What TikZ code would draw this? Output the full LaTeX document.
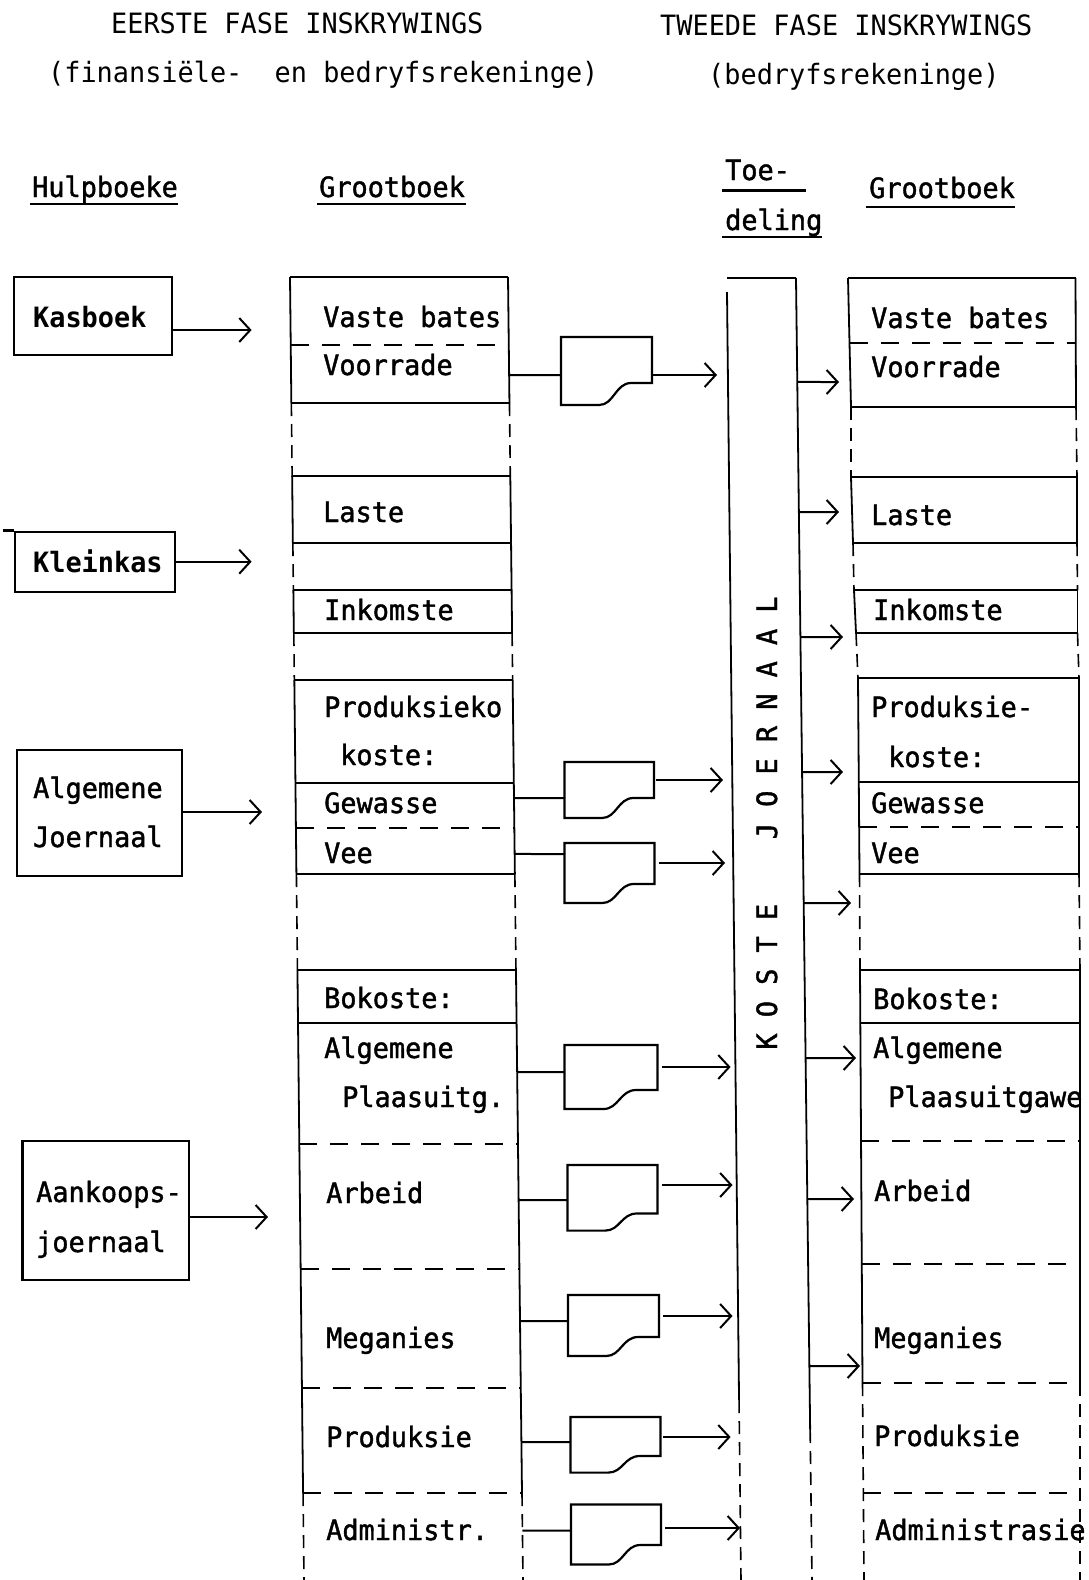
\documentclass[tikz,border=0pt]{standalone}
\usepackage{fontspec}
\setmonofont[FakeStretch=0.96]{DejaVu Sans Mono}
\newfontfamily\twfont[FakeStretch=0.96,FakeBold=1.4]{DejaVu Sans Mono}
\usetikzlibrary{arrows.meta,calc}
\newcommand\GLx[1]{290+(#1-277)*0.010744}
\newcommand\GRx[1]{508+(#1-277)*0.011512}
\newcommand\docshape[5]{%
 \draw[docln] (#1,#3) -- (#2,#3) -- (#2,#4) -- ({#1+0.77*(#2-#1)},#4)
   .. controls ({#1+0.6*(#2-#1)},#4) and ({#1+0.58*(#2-#1)},#5) ..
   ({#1+0.42*(#2-#1)},#5) -- (#1,#5) -- cycle;}
\tikzset{
 tw/.style={font=\twfont\fontsize{28}{49}\selectfont, inner sep=0pt, anchor=base west},
 th/.style={font=\ttfamily\fontsize{28}{49}\selectfont, inner sep=0pt, anchor=base west},
 twb/.style={tw, font=\ttfamily\bfseries\fontsize{28}{49}\selectfont},
 hl/.style={line width=2.2pt},
 hd/.style={line width=2pt, dash pattern=on 18pt off 13pt},
 vl/.style={line width=1.8pt},
 vd/.style={line width=1.6pt, dash pattern=on 13pt off 8pt},
 arr/.style={line width=2pt, -{Straight Barb[length=11pt,width=24pt]}},
 conn/.style={line width=2pt},
 hbox/.style={draw, line width=2.4pt, inner sep=0pt},
 docln/.style={line width=2.2pt, line join=miter},
 ul/.style={line width=2.6pt},
}
\begin{document}
\begin{tikzpicture}[x=1pt,y=-1pt]
\fill[white] (0,0) rectangle (1088,1580);
\useasboundingbox (0,0) rectangle (1088,1580);

% ---------- headers
\node[th] (h1) at (111,33) {EERSTE FASE INSKRYWINGS};
\node[th] (h2) at (48,82) {(finansiële-~~en bedryfsrekeninge)};
\node[th] (h3) at (660,35) {TWEEDE FASE INSKRYWINGS};
\node[th] (h4) at (708,84) {(bedryfsrekeninge)};
\node[tw] (hb) at (32,197) {Hulpboeke};
\draw[ul] (30,204) -- (178,204);
\node[tw] (gb1) at (319,197) {Grootboek};
\draw[ul] (317,204) -- (466,204);
\node[tw] (toe) at (725,180) {Toe-};
\draw[ul] (722,190.5) -- (806,190.5);
\node[tw] (del) at (725,230) {deling};
\draw[ul] (722,237) -- (822,237);
\node[tw] (gb2) at (869,198) {Grootboek};
\draw[ul] (866,207) -- (1015,207);

% ---------- Hulpboeke
\node[hbox, minimum width=158pt, minimum height=78pt] (kas) at (93,316) {};
\node[twb] (kast) at (33,327) {Kasboek};
\node[hbox, minimum width=160pt, minimum height=60pt] (kk) at (95,561.7) {};
\draw[hl] (kk.north west) -- ++(-11,0);
\node[twb] (kkt) at (33,572) {Kleinkas};
\node[hbox, minimum width=165pt, minimum height=126pt] (aj) at (99.5,813) {};
\node[tw] (ajt1) at (33,798) {Algemene};
\node[tw] (ajt2) at (33,847) {Joernaal};
\node[hbox, minimum width=166.5pt, minimum height=139pt] (ak) at (105.75,1210.5) {};
\node[tw] (akt1) at (36,1202) {Aankoops-};
\node[tw] (akt2) at (36,1252) {joernaal};

\coordinate (kasE) at (251.6,330);
\coordinate (kkE) at (251.6,561.7);
\coordinate (ajE) at (262,812);
\coordinate (akE) at (268,1217);
\draw[arr] (kas.east |- kasE) -- (kasE);
\draw[arr] (kk.east |- kkE) -- (kkE);
\draw[arr] (aj.east |- ajE) -- (ajE);
\draw[arr] (ak.east |- akE) -- (akE);

% ---------- first Grootboek
\foreach \yy in {277,403,476,543,590,633,680,783,874,970,1023}
  \draw[hl] ({\GLx{\yy}},\yy) -- ({\GRx{\yy}},\yy);
\foreach \yy in {345,828,1144,1269,1388,1493}
  \draw[hd] ({\GLx{\yy}},\yy) -- ({\GRx{\yy}},\yy);
\foreach \a/\b in {277/403,476/543,590/633,680/874,970/1493}
  \draw[vl] ({\GLx{\a}},\a) -- ({\GLx{\b}},\b);
\foreach \a/\b in {403/476,543/590,633/680,874/970,1493/1580}
  \draw[vd] ({\GLx{\a}},\a) -- ({\GLx{\b}},\b);
\foreach \a/\b in {277/403,476/633,680/874,970/1493}
  \draw[vl] ({\GRx{\a}},\a) -- ({\GRx{\b}},\b);
\foreach \a/\b in {403/476,633/680,874/970,1493/1580}
  \draw[vd] ({\GRx{\a}},\a) -- ({\GRx{\b}},\b);

\node[tw] (l1) at (323,327) {Vaste bates};
\node[tw] (l2) at (323,375) {Voorrade};
\node[tw] (l3) at (323,522) {Laste};
\node[tw] (l4) at (324,620) {Inkomste};
\node[tw] (l5) at (324,717) {Produksieko};
\node[tw] (l6) at (340,765) {koste:};
\node[tw] (l7) at (324,813) {Gewasse};
\node[tw] (l8) at (324,863) {Vee};
\node[tw] (l9) at (324,1008) {Bokoste:};
\node[tw] (l10) at (324,1058) {Algemene};
\node[tw] (l11) at (342,1107) {Plaasuitg.};
\node[tw] (l12) at (326,1203) {Arbeid};
\node[tw] (l13) at (326,1348) {Meganies};
\node[tw] (l14) at (326,1447) {Produksie};
\node[tw] (l15) at (326,1540) {Administr.};

% ---------- document symbols and connectors
\coordinate (gRt) at (508,277);
\coordinate (gRb) at (523,1580);
\foreach \i/\L/\R/\T/\RB/\LB/\yin/\xo/\yout/\xt in {
  1/561/652/337/383/405/375/652/375/717,
  2/564.5/654/762/798/818/798/655.6/780/723,
  3/564.5/654.5/843/884/903/854/659/863/725,
  4/564.5/657.5/1045/1090/1109/1072/662/1067/730.6,
  5/567.5/657.5/1165/1213.5/1230.6/1200/662/1185/732.5,
  6/568/659/1295/1337/1356/1321/663/1316/732.5,
  7/570.5/660.5/1417/1456/1472.6/1442/663/1437/730.6,
  8/571/661/1504.5/1545/1564.5/1530.6/665/1528/740}{
  \docshape{\L}{\R}{\T}{\RB}{\LB}
  \coordinate (di\i) at ($(gRt)!{(\yin-277)/1303}!(gRb)$);
  \coordinate (dl\i) at (\L,\yin);
  \coordinate (do\i) at (\xo,\yout);
  \coordinate (dt\i) at (\xt,\yout);
  \draw[conn] (di\i) -- (dl\i);
  \draw[arr] (do\i) -- (dt\i);
}

% ---------- KOSTE JOERNAAL column
\coordinate (cLt) at (727,292);
\coordinate (cLb) at (741,1580);
\coordinate (cRt) at (796,278);
\coordinate (cRb) at (812,1580);
\coordinate (cLm) at ($(cLt)!{(1400-292)/1288}!(cLb)$);
\coordinate (cRm) at ($(cRt)!{(1430-278)/1302}!(cRb)$);
\draw[hl] (727,278) -- (cRt);
\draw[vl] (cLt) -- (cLm);
\draw[vd] (cLm) -- (cLb);
\draw[vl] (cRt) -- (cRm);
\draw[vd] (cRm) -- (cRb);
\node[tw, anchor=base, rotate=90] (kj) at (777,823) {K~O~S~T~E~~~~J~O~E~R~N~A~A~L};

\foreach \i/\yy/\xt in {1/382/839, 2/512/839, 3/637/843, 4/772/843,
                         5/903/851, 6/1058/856, 7/1199/854, 8/1366/860}{
  \coordinate (cs\i) at ($(cRt)!{(\yy-278)/1302}!(cRb)$);
  \coordinate (ce\i) at (\xt,\yy);
  \draw[arr] (cs\i) -- (ce\i);
}

% ---------- second Grootboek
\foreach \yy/\xl/\xr in {278/848/1075.5, 407/851/1076, 477/851/1077, 543/853/1077,
   590/854/1077.5, 633/856/1077.5, 678/858/1079, 782/858.5/1079, 874/859.5/1079,
   970/860/1080, 1023/860.5/1080}
  \draw[hl] (\xl,\yy) -- (\xr,\yy);
\foreach \yy/\xl/\xr in {343/849.5/1075.7, 827/859/1079, 1141/861/1080,
   1264/862/1080, 1383/862.5/1080, 1493/863/1080}
  \draw[hd] (\xl,\yy) -- (\xr,\yy);
% left edge
\foreach \xa/\ya/\xb/\yb in {848/278/851/407, 851/477/853/543, 854/590/856/633,
   858/678/859.5/874, 860/970/862.5/1383}
  \draw[vl] (\xa,\ya) -- (\xb,\yb);
\foreach \xa/\ya/\xb/\yb in {851/407/851/477, 853/543/854/590, 856/633/858/678,
   859.5/874/860/970, 862.5/1383/864/1580}
  \draw[vd] (\xa,\ya) -- (\xb,\yb);
% right edge
\foreach \xa/\ya/\xb/\yb in {1075.5/278/1076/407, 1077/477/1077/543, 1077.5/590/1077.5/633,
   1079/678/1079/874, 1080/970/1080/1383}
  \draw[vl] (\xa,\ya) -- (\xb,\yb);
\foreach \xa/\ya/\xb/\yb in {1076/407/1077/477, 1077/543/1077.5/590, 1077.5/633/1079/678,
   1079/874/1080/970, 1080/1383/1080/1580}
  \draw[vd] (\xa,\ya) -- (\xb,\yb);

\node[tw] (r1) at (871,328) {Vaste bates};
\node[tw] (r2) at (871,377) {Voorrade};
\node[tw] (r3) at (871,525) {Laste};
\node[tw] (r4) at (873,620) {Inkomste};
\node[tw] (r5) at (871,717) {Produksie-};
\node[tw] (r6) at (888,767) {koste:};
\node[tw] (r7) at (871,813) {Gewasse};
\node[tw] (r8) at (871,863) {Vee};
\node[tw] (r9) at (873,1009) {Bokoste:};
\node[tw] (r10) at (873,1058) {Algemene};
\node[tw] (r11) at (888,1107) {Plaasuitgawe};
\node[tw] (r12) at (874,1201) {Arbeid};
\node[tw] (r13) at (874,1348) {Meganies};
\node[tw] (r14) at (874,1446) {Produksie};
\node[tw] (r15) at (875,1540) {Administrasie};
\end{tikzpicture}
\end{document}
